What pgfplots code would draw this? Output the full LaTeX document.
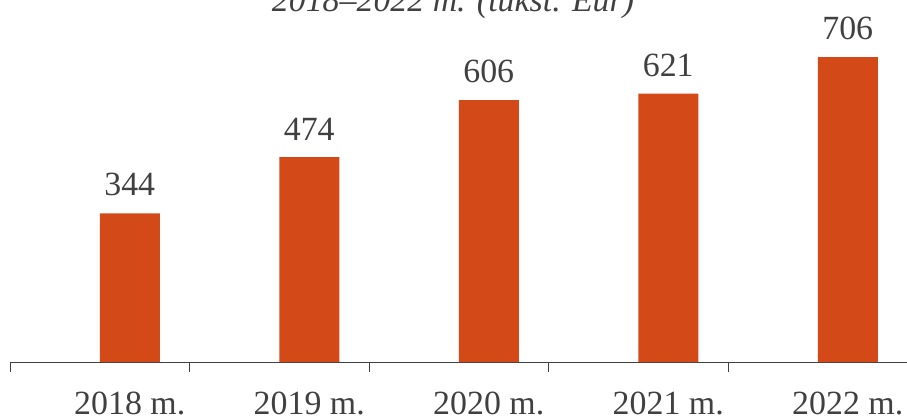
\documentclass[border=0pt]{standalone}
\usepackage{pgfplots}
\pgfplotsset{compat=1.18}
\usepackage{fontspec}
\setmainfont{Liberation Serif}
\definecolor{barc}{HTML}{D34A18}
\definecolor{txt}{HTML}{404040}
\begin{document}
\begin{tikzpicture}
\useasboundingbox (0,0) rectangle (907bp,416bp);
\clip (0,0) rectangle (907bp,416bp);
\begin{axis}[
  at={(10bp,54bp)}, anchor=south west,
  scale only axis,
  width=897.5bp, height=345.6bp,
  xmin=-0.5, xmax=4.5, ymin=0, ymax=800,
  axis x line*=bottom, axis y line=none,
  x axis line style={color=txt, line width=1bp},
  xtick={0.1671,1.1671,2.1671,3.1671,4.1671},
  xticklabels={2018 m.,2019 m.,2020 m.,2021 m.,2022 m.},
  major tick length=0pt,
  minor xtick={-0.5,0.5,1.5,2.5,3.5,4.5},
  minor tick length=10bp,
  tick align=outside,
  minor tick style={color=txt, line width=0.8bp},
  xticklabel style={font=\fontsize{34}{40}\selectfont, text=txt, anchor=north, inner sep=0pt, yshift=-30bp},
  ytick=\empty,
  clip=false,
  /pgf/number format/assume math mode=true,
  nodes near coords={\pgfmathprintnumber[assume math mode=true]{\pgfplotspointmeta}},
  every node near coord/.append style={font=\fontsize{34}{40}\selectfont, text=txt, anchor=south, inner sep=0pt, xshift=30bp, yshift=17bp},
]
\addplot[ybar, bar width=60bp, bar shift=30bp, fill=barc, draw=none] coordinates {(0,344) (1,474) (2,606) (3,621) (4,706)};
\end{axis}
\node[anchor=base, text=txt, font=\itshape\fontsize{34}{40}\selectfont, inner sep=0pt] at (453bp,404bp) {2018–2022 m. (tūkst. Eur)};
\end{tikzpicture}
\end{document}
